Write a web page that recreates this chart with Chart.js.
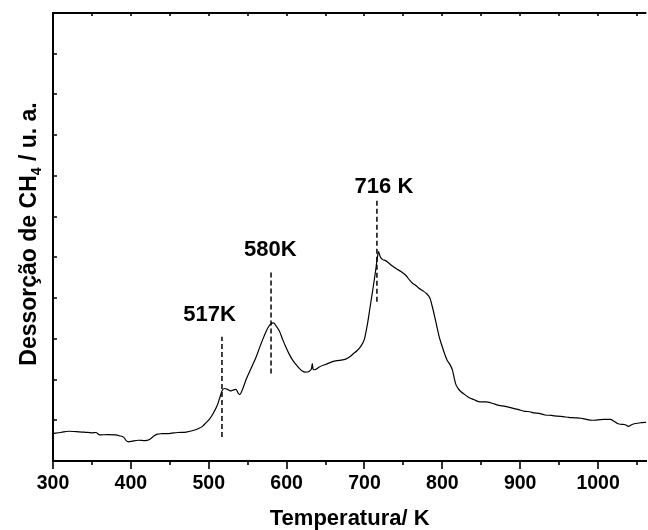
<!DOCTYPE html>
<html>
<head>
<meta charset="utf-8">
<script src="https://cdn.jsdelivr.net/npm/chart.js@4.4.0/dist/chart.umd.min.js"></script>
<style>
  html, body { margin: 0; padding: 0; background: #fff; }
</style>
</head>
<body>
<canvas id="tpdChart" width="648" height="530"></canvas>
<script>
// CH4 desorption profile (temperature in K, signal in arbitrary units)
const temps = [
  300, 310, 320, 330, 340, 350, 355, 360, 370, 380, 385, 391, 394, 397, 402, 410, 418, 424,
  430, 434, 440, 451, 460, 471, 482, 487, 492, 496, 501, 506, 511, 514, 517, 520, 524, 528,
  531, 535, 538, 540, 543, 548, 555, 561, 566, 571, 576, 580, 583, 586, 591, 595, 599, 604,
  608, 612, 616, 620, 624, 628, 630, 632, 633, 634, 636, 642, 650, 659, 667, 676, 682, 686,
  690, 695, 700, 704, 707, 710, 713, 715, 717, 718, 720, 723, 727, 730, 735, 740, 747, 753,
  758, 762, 766, 770, 775, 779, 784, 787, 790, 793, 796, 800, 803, 806, 810, 813, 815, 817,
  820, 824, 829, 834, 840, 849, 856, 862, 870, 881, 890, 898, 906, 912, 918, 924, 932, 940,
  948, 955, 962, 970, 978, 985, 992, 1000, 1008, 1016, 1020, 1025, 1030, 1035, 1039, 1043,
  1048, 1055, 1062
];
const signal = [
  6.8, 7.0, 7.3, 7.2, 7.1, 6.9, 7.0, 6.4, 6.5, 6.4, 6.2, 5.8, 5.0, 4.7, 4.9, 5.1, 5.0, 5.3,
  6.2, 6.6, 6.7, 6.8, 7.0, 7.1, 7.6, 8.0, 8.5, 9.3, 10.3, 11.8, 13.7, 15.4, 17.2, 17.8, 17.6, 17.2,
  17.4, 17.6, 16.6, 16.3, 17.4, 20.0, 23.0, 25.6, 28.2, 30.6, 32.7, 33.7, 33.9, 33.3, 31.8, 29.8, 28.0, 26.0,
  24.7, 23.7, 22.8, 22.1, 21.8, 21.9, 22.2, 22.7, 23.9, 22.5, 22.4, 23.1, 23.7, 24.4, 24.7, 25.0, 25.7, 26.4,
  27.0, 28.1, 30.0, 33.8, 37.5, 41.2, 45.0, 47.7, 50.5, 51.4, 50.3, 49.5, 49.2, 48.8, 48.0, 47.3, 46.5, 45.6,
  44.4, 43.6, 43.1, 42.4, 41.8, 41.2, 40.0, 38.0, 35.6, 33.0, 30.5, 28.0, 26.3, 24.8, 23.6, 22.3, 20.6, 19.0,
  17.9, 17.0, 16.3, 15.6, 15.1, 14.5, 14.5, 14.3, 13.8, 13.4, 13.0, 12.6, 12.2, 12.1, 11.8, 11.7, 11.3, 11.2,
  11.0, 10.9, 10.7, 10.6, 10.5, 10.2, 10.0, 10.1, 10.2, 10.2, 9.8, 9.2, 9.0, 8.9, 8.5, 8.9,
  9.2, 9.4, 9.5
];

// marked peak temperatures and their labels
const peakTemps = [517, 580, 716];
const peakNames = ['517K', '580K', '716 K'];
// vertical extent of each dashed marker, in signal units
const markerLow = [5.9, 21.5, 39.1];
const markerHigh = [30.5, 46.5, 64.0];
// where each label sits, in data units
const labelTemp = [501, 579, 725];
const labelSignal = [35.9, 51.8, 67.3];

const FONT = "'Liberation Sans', Arial, Helvetica, sans-serif";
Chart.defaults.font.family = FONT;
Chart.defaults.color = '#000';

const curve = temps.map((t, i) => ({ x: t, y: signal[i] }));

const markerSets = peakTemps.map((t, i) => ({
  data: [{ x: t, y: markerLow[i] }, { x: t, y: markerHigh[i] }],
  borderColor: '#000',
  borderWidth: 1.5,
  borderDash: [5, 3],
  pointRadius: 0
}));

// frame ticks, top border, peak labels and the rotated y title with a subscript
const decorations = {
  id: 'decorations',
  afterDraw(chart) {
    const { ctx, chartArea: a, scales: { x, y } } = chart;
    ctx.save();
    ctx.strokeStyle = '#000';
    ctx.fillStyle = '#000';

    ctx.lineWidth = 2;
    ctx.beginPath();
    ctx.moveTo(a.left - 1, a.top);
    ctx.lineTo(a.right, a.top);
    ctx.stroke();

    ctx.lineWidth = 1.6;
    ctx.beginPath();
    x.ticks.forEach(t => {
      if (t.value % 50 !== 0) return;
      const px = Math.round(x.getPixelForValue(t.value));
      const len = t.value % 100 === 0 ? 8 : 4;
      ctx.moveTo(px, a.bottom);
      ctx.lineTo(px, a.bottom + len);
      ctx.moveTo(px, a.top);
      ctx.lineTo(px, a.top + 3);
    });
    y.ticks.forEach(t => {
      const py = Math.round(y.getPixelForValue(t.value));
      ctx.moveTo(a.left, py);
      ctx.lineTo(a.left + 4, py);
    });
    ctx.stroke();

    ctx.font = `bold 22px ${FONT}`;
    ctx.textAlign = 'center';
    ctx.textBaseline = 'middle';
    peakNames.forEach((name, i) => {
      ctx.fillText(name, x.getPixelForValue(labelTemp[i]), y.getPixelForValue(labelSignal[i]));
    });

    const mainFont = `bold 23px ${FONT}`;
    const subFont = `bold 14px ${FONT}`;
    const part1 = 'Dessorção de CH', part2 = '4', part3 = ' / u. a.';
    ctx.font = mainFont;
    const w1 = ctx.measureText(part1).width;
    const w3 = ctx.measureText(part3).width;
    ctx.font = subFont;
    const w2 = ctx.measureText(part2).width;
    ctx.translate(36, 234);
    ctx.rotate(-Math.PI / 2);
    ctx.textAlign = 'left';
    ctx.textBaseline = 'alphabetic';
    let sx = -(w1 + w2 + w3) / 2;
    ctx.font = mainFont;
    ctx.fillText(part1, sx, 0);
    sx += w1;
    ctx.font = subFont;
    ctx.fillText(part2, sx, 5);
    sx += w2;
    ctx.font = mainFont;
    ctx.fillText(part3, sx, 0);
    ctx.restore();
  }
};

new Chart(document.getElementById('tpdChart'), {
  type: 'line',
  data: {
    datasets: [
      {
        data: curve,
        borderColor: '#000',
        borderWidth: 1.2,
        pointRadius: 0,
        cubicInterpolationMode: 'monotone'
      },
      ...markerSets
    ]
  },
  options: {
    responsive: false,
    animation: false,
    layout: { padding: { left: 0, top: 13, right: 0, bottom: 0 } },
    plugins: { legend: { display: false }, tooltip: { enabled: false } },
    scales: {
      x: {
        type: 'linear',
        min: 300,
        max: 1062,
        afterFit(scale) { scale.height = 69; },
        grid: { drawOnChartArea: false, drawTicks: false },
        border: { color: '#000', width: 2 },
        ticks: {
          stepSize: 50,
          includeBounds: false,
          autoSkip: false,
          maxRotation: 0,
          padding: 11,
          font: { size: 19.5, weight: 'bold' },
          callback: v => (v % 100 === 0 ? v : '')
        },
        title: {
          display: true,
          text: 'Temperatura/ K',
          font: { size: 22, weight: 'bold', lineHeight: 1 },
          padding: { top: 0, bottom: 0 }
        }
      },
      y: {
        min: 0,
        max: 110,
        afterFit(scale) { scale.width = 53; },
        grid: { drawOnChartArea: false, drawTicks: false },
        border: { color: '#000', width: 2 },
        ticks: { stepSize: 10, display: false }
      }
    }
  },
  plugins: [decorations]
});
</script>
</body>
</html>
